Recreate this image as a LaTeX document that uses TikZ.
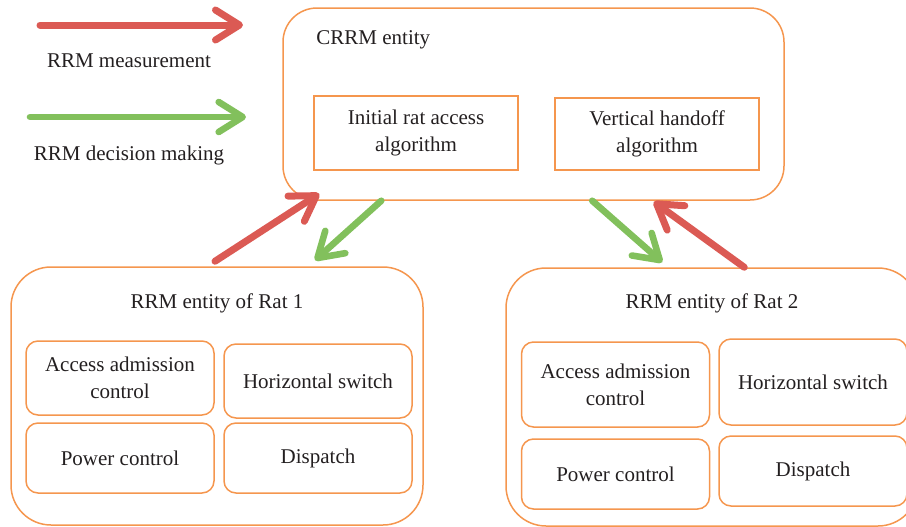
\documentclass[tikz,border=0pt]{standalone}
\usepackage{fontspec}
\setmainfont{Liberation Serif}
\usepackage{xcolor}
\usepackage{tikz}
\usetikzlibrary{calc,arrows.meta}

\definecolor{boxorange}{HTML}{F5964E}
\definecolor{measred}{HTML}{DB5A54}
\definecolor{decgreen}{HTML}{82C05C}
\definecolor{txtgray}{HTML}{231F20}

\tikzset{
    ent/.style={draw=boxorange, line width=0.75pt, rounded corners=17pt, inner sep=0pt},
    sub/.style={draw=boxorange, line width=0.75pt, rounded corners=6pt, align=center, inner sep=0pt, minimum width=94pt},
    alg/.style={draw=boxorange, line width=0.75pt, align=center, inner sep=0pt, minimum width=102pt},
    lbl/.style={inner sep=0pt, text=txtgray},
    meas/.style={draw=measred, line width=3.5pt, line cap=round, -{Straight Barb[length=12pt,width=15pt,round]}},
    dec/.style={draw=decgreen, line width=3.3pt, line cap=round, -{Straight Barb[length=12pt,width=15pt,round]}}
}

\begin{document}
\begin{tikzpicture}[x=0.5pt, y=-0.5pt, font=\fontsize{10.5}{13.5}\selectfont, text=txtgray]
            \path[use as bounding box, clip] (0, 0) rectangle (906, 526);

            \coordinate (measa) at (40, 25);
            \coordinate (measb) at (243, 25);
            \coordinate (deca) at (30, 117);
            \coordinate (decb) at (246, 117);
            \draw[meas] (measa) -- (measb);
            \draw[dec] (deca) -- (decb);
            \node[lbl] (measlbl) at (129, 61) {RRM measurement};
            \node[lbl] (declbl) at (129, 155) {RRM decision making};

            \node[ent, minimum width=250.5pt, minimum height=96pt] (crrm) at (533.5, 104) {};
            \node[lbl, anchor=west] (crrmlbl) at (316, 40) {CRRM entity};
            \node[alg, minimum height=37pt] (initacc) at (416, 133) {Initial rat access\\algorithm};
            \node[alg, minimum height=36pt] (verthand) at (657, 134) {Vertical handoff\\algorithm};

            \node[ent, rounded corners=20pt, minimum width=206pt, minimum height=129pt] (rat1) at (217, 396) {};
            \node[lbl] (rat1lbl) at (217, 303) {RRM entity of Rat 1};
            \node[sub, minimum height=37pt] (aac1) at (120, 378) {Access admission\\control};
            \node[sub, minimum height=37pt] (hs1) at (318, 381) {Horizontal switch};
            \node[sub, minimum height=35pt] (pc1) at (120, 458) {Power control};
            \node[sub, minimum height=35pt] (dis1) at (318, 458) {Dispatch};

            \node[ent, rounded corners=20pt, minimum width=206pt, minimum height=129pt] (rat2) at (712, 397) {};
            \node[lbl] (rat2lbl) at (712, 303) {RRM entity of Rat 2};
            \node[sub, minimum height=42.5pt] (aac2) at (615.5, 384.5) {Access admission\\control};
            \node[sub, minimum height=43pt] (hs2) at (813, 382) {Horizontal switch};
            \node[sub, minimum height=35pt] (pc2) at (615.5, 474) {Power control};
            \node[sub, minimum height=35pt] (dis2) at (813, 471) {Dispatch};

            \draw[meas] ($(rat1.north)+(-2, -5)$) -- ($(crrm.south west)+(37, -7)$);
            \draw[dec] ($(crrm.south west)+(99, 0)$) -- ($(rat1.north)+(98, -6)$);
            \draw[dec] ($(crrm.south west)+(310, 0)$) -- ($(rat2.north west)+(157, -5)$);
            \draw[meas] ($(rat2.north west)+(239, 0)$) -- ($(crrm.south east)+(-131, 1)$);
        \end{tikzpicture}
\end{document}
